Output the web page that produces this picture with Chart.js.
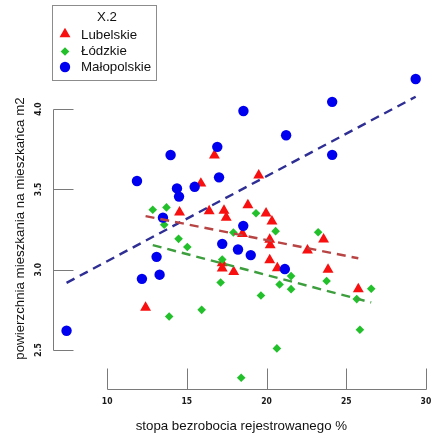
<!DOCTYPE html>
<html>
<head>
<meta charset="utf-8">
<title>powierzchnia mieszkania na mieszkańca</title>
<script src="https://cdn.jsdelivr.net/npm/chart.js@4.4.1/dist/chart.umd.min.js"></script>
<style>
  html, body { margin: 0; padding: 0; background: #fff; }
  canvas { display: block; }
</style>
</head>
<body>
<canvas id="chart" width="436" height="439"></canvas>
<script>
// groups (legend order)
const groups = ['Lubelskie', 'Łódzkie', 'Małopolskie'];
const legendTitle = 'X.2';
const xTitle = 'stopa bezrobocia rejestrowanego %';
const yTitle = 'powierzchnia mieszkania na mieszkańca m2';

// Lubelskie (red triangles)
const lubelskieX = [16.73, 19.51, 15.88, 14.54, 16.40, 17.33, 17.47, 18.83, 19.97, 20.34, 18.49, 20.20,
                    20.23, 22.57, 23.58, 17.22, 17.22, 17.94, 20.20, 20.68, 23.86, 25.76, 12.41];
const lubelskieY = [3.712, 3.587, 3.537, 3.357, 3.365, 3.368, 3.324, 3.402, 3.351, 3.301, 3.223, 3.187,
                    3.153, 3.120, 3.189, 3.041, 3.008, 2.987, 3.060, 3.010, 3.001, 2.879, 2.764];

// Łódzkie (green diamonds)
const lodzkieX = [12.86, 13.72, 13.58, 14.48, 15.03, 19.34, 17.92, 20.57, 23.24, 17.22, 17.12, 21.54,
                  20.82, 21.54, 23.77, 19.65, 26.57, 25.66, 15.93, 13.89, 25.86, 20.65, 18.41];
const lodzkieY = [3.373, 3.388, 3.280, 3.192, 3.141, 3.351, 3.232, 3.240, 3.233, 3.063, 2.920, 2.960,
                  2.908, 2.879, 2.930, 2.839, 2.881, 2.817, 2.750, 2.709, 2.626, 2.510, 2.327];

// Małopolskie (blue circles)
const malopolskieX = [29.36, 24.12, 18.55, 21.23, 24.12, 16.91, 13.98, 11.87, 17.02, 14.38, 15.49,
                      14.51, 13.50, 18.54, 17.22, 18.21, 19.01, 21.15, 13.10, 13.29, 12.18, 7.45];
const malopolskieY = [4.187, 4.045, 3.988, 3.837, 3.715, 3.765, 3.714, 3.552, 3.575, 3.506, 3.516,
                      3.455, 3.324, 3.273, 3.161, 3.126, 3.091, 3.004, 3.080, 2.969, 2.943, 2.620];

// regression line end points: [x0, x1], [y0, y1]
const lubelskieFitX = [12.41, 25.76], lubelskieFitY = [3.334, 3.071];
const lodzkieFitX = [12.86, 26.57], lodzkieFitY = [3.153, 2.796];
const malopolskieFitX = [7.45, 29.36], malopolskieFitY = [2.918, 4.077];

// axis ticks
const xTicks = [10, 15, 20, 25, 30];
const yTicks = [2.5, 3.0, 3.5, 4.0];
const yTickLabels = ['2.5', '3.0', '3.5', '4.0'];

const colors = ['#f80f0f', '#22c02a', '#0000f0'];
const lineColors = ['#b84444', '#3d9e3d', '#2e2e94'];
const styles = ['triangle', 'rectRot', 'circle'];
const radii = [6.3, 4.3, 5.2];

const textFont = '13.3px "Liberation Sans", Arial, sans-serif';
const tickFont = 'bold 8.5px "Liberation Sans Narrow", "DejaVu Sans Condensed", "Liberation Sans", sans-serif';

const toPoints = (xs, ys) => xs.map((x, i) => ({ x: x, y: ys[i] }));

function pointSet(i, xs, ys) {
    return {
        type: 'scatter',
        label: groups[i],
        data: toPoints(xs, ys),
        pointStyle: styles[i],
        pointRadius: radii[i],
        pointHoverRadius: radii[i],
        backgroundColor: colors[i],
        borderColor: colors[i],
        borderWidth: 0,
        order: 3 - i,
        clip: false
    };
}

function fitSet(i, xs, ys) {
    return {
        type: 'line',
        label: groups[i] + ' fit',
        data: toPoints(xs, ys),
        borderColor: lineColors[i],
        borderWidth: 2.4,
        borderDash: [9, 6],
        pointRadius: 0,
        fill: false,
        order: 0
    };
}

function drawMark(ctx, i, x, y) {
    ctx.save();
    ctx.fillStyle = colors[i];
    Chart.helpers.drawPoint(ctx, { pointStyle: styles[i], radius: radii[i], rotation: 0, borderWidth: 0 }, x, y);
    ctx.restore();
}

// R style axes: offset lines spanning the ticks, ticks pointing inward
const rAxes = {
    id: 'rAxes',
    afterDraw(chart) {
        const { ctx, chartArea } = chart;
        const xs = chart.scales.x, ys = chart.scales.y;
        ctx.save();
        ctx.strokeStyle = '#7a7a7a';
        ctx.lineWidth = 1;

        const yb = Math.round(chartArea.bottom) - 0.5;
        ctx.beginPath();
        ctx.moveTo(Math.round(xs.getPixelForValue(xTicks[0])) + 0.5, yb);
        ctx.lineTo(Math.round(xs.getPixelForValue(xTicks[xTicks.length - 1])) + 0.5, yb);
        xTicks.forEach(v => {
            const px = Math.round(xs.getPixelForValue(v)) + 0.5;
            ctx.moveTo(px, yb);
            ctx.lineTo(px, yb - 21);
        });
        ctx.stroke();

        const xl = Math.round(chartArea.left) + 0.5;
        ctx.beginPath();
        ctx.moveTo(xl, Math.round(ys.getPixelForValue(yTicks[0])) + 0.5);
        ctx.lineTo(xl, Math.round(ys.getPixelForValue(yTicks[yTicks.length - 1])) + 0.5);
        yTicks.forEach(v => {
            const py = Math.round(ys.getPixelForValue(v)) + 0.5;
            ctx.moveTo(xl, py);
            ctx.lineTo(xl + 20, py);
        });
        ctx.stroke();

        // tick labels
        ctx.fillStyle = '#1a1a1a';
        ctx.font = tickFont;
        ctx.textAlign = 'center';
        ctx.textBaseline = 'middle';
        xTicks.forEach(v => ctx.fillText(String(v), xs.getPixelForValue(v), chartArea.bottom + 12));
        yTicks.forEach((v, i) => {
            ctx.save();
            ctx.translate(chartArea.left - 14, ys.getPixelForValue(v));
            ctx.rotate(-Math.PI / 2);
            ctx.fillText(yTickLabels[i], 0, 0);
            ctx.restore();
        });

        // axis titles
        ctx.font = textFont;
        ctx.fillStyle = '#111';
        ctx.fillText(xTitle, (chartArea.left + chartArea.right) / 2, chartArea.bottom + 36);
        ctx.save();
        ctx.translate(20, (chartArea.top + chartArea.bottom) / 2);
        ctx.rotate(-Math.PI / 2);
        ctx.fillText(yTitle, 0, 0);
        ctx.restore();

        // legend box
        ctx.strokeStyle = '#8c8c8c';
        ctx.strokeRect(52.5, 5.5, 104, 75);
        ctx.fillStyle = '#111';
        ctx.textAlign = 'center';
        ctx.fillText(legendTitle, 107, 17);
        ctx.textAlign = 'left';
        const rowY = [35, 51.5, 67];
        groups.forEach((g, i) => {
            drawMark(ctx, i, 65, rowY[i] - (i === 0 ? 1 : 0));
            ctx.fillStyle = '#111';
            ctx.fillText(g, 81, rowY[i]);
        });
        ctx.restore();
    }
};

new Chart(document.getElementById('chart'), {
    data: {
        datasets: [
            fitSet(0, lubelskieFitX, lubelskieFitY),
            fitSet(1, lodzkieFitX, lodzkieFitY),
            fitSet(2, malopolskieFitX, malopolskieFitY),
            pointSet(0, lubelskieX, lubelskieY),
            pointSet(1, lodzkieX, lodzkieY),
            pointSet(2, malopolskieX, malopolskieY)
        ]
    },
    options: {
        responsive: false,
        animation: false,
        layout: { padding: { left: 53, right: 0, top: 67, bottom: 49 } },
        scales: {
            x: { type: 'linear', min: 6.6, max: 30.24, display: false },
            y: { type: 'linear', min: 2.251, max: 4.262, display: false }
        },
        plugins: {
            legend: { display: false },
            tooltip: { enabled: false }
        }
    },
    plugins: [rAxes]
});
</script>
</body>
</html>
